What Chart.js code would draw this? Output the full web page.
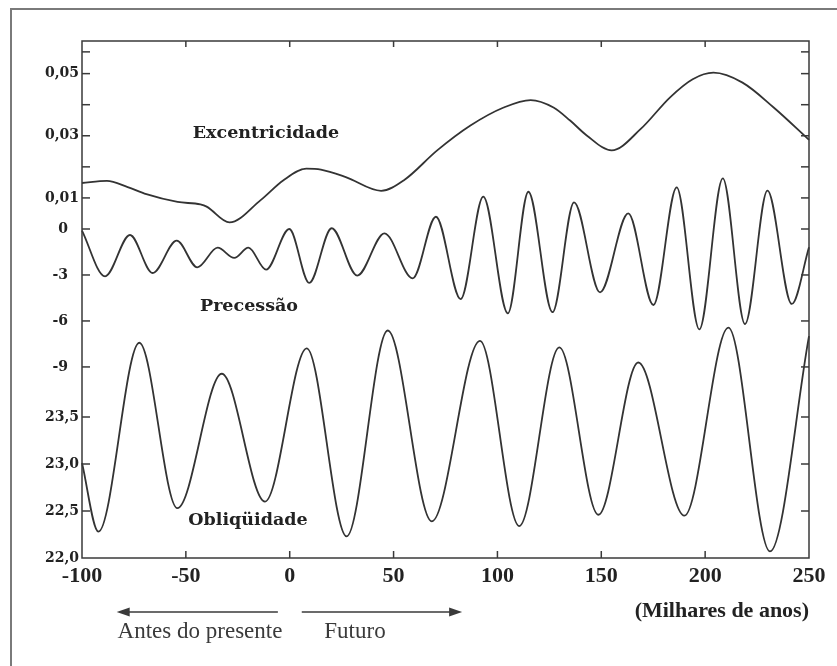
<!DOCTYPE html>
<html lang="pt">
<head>
<meta charset="utf-8">
<title>Excentricidade, Precessão e Obliqüidade</title>
<script src="https://cdn.jsdelivr.net/npm/chart.js@4.4.1/dist/chart.umd.min.js"></script>
<style>
  html, body { margin: 0; padding: 0; background: #fff; overflow: hidden; }
  #wrap { position: relative; width: 837px; height: 666px; overflow: hidden; }
  #frame { position: absolute; left: 10px; top: 8px; width: 900px; height: 720px;
           border-left: 2px solid #7a7a7a; border-top: 2px solid #7a7a7a; }
  #chart { position: absolute; left: 0; top: 0; }
  .lbl { position: absolute; transform: translate(-50%, -50%); white-space: nowrap; color: #222; }
  .curve { font-family: 'DejaVu Serif', serif; font-weight: bold; font-size: 17.5px; }
  .time { font-family: 'Liberation Serif', serif; font-size: 23px; color: #3a3a3a; }
</style>
</head>
<body>
<div id="wrap">
  <div id="frame"></div>
  <canvas id="chart" width="837" height="666"></canvas>
  <div class="lbl curve" style="left:266px; top:132px;">Excentricidade</div>
  <div class="lbl curve" style="left:249px; top:305px;">Precessão</div>
  <div class="lbl curve" style="left:248px; top:519px;">Obliqüidade</div>
  <div class="lbl time" style="left:200px; top:631px;">Antes do presente</div>
  <div class="lbl time" style="left:355px; top:631px;">Futuro</div>
</div>
<script>
// milhares de anos (negativo = passado)
const xTicks = [-100, -50, 0, 50, 100, 150, 200, 250];

const eccYears  = [-100, -88, -78, -69, -54, -43, -40, -29, -14, -3, 8, 15, 27, 44, 55, 71, 87, 103, 116, 127, 135, 143, 155, 169, 183, 194, 204, 218, 233, 250];
const eccValues = [0.0148, 0.0155, 0.0135, 0.0112, 0.0087, 0.0079, 0.0072, 0.0021, 0.0093, 0.0157, 0.0194, 0.0191, 0.0167, 0.0123, 0.0157, 0.0253, 0.0333, 0.0391, 0.0415, 0.0391, 0.0349, 0.0301, 0.0253, 0.0322, 0.0423, 0.0482, 0.0503, 0.0471, 0.0391, 0.0287];

const precYears  = [-100, -88.9, -76.9, -66, -54.4, -44.5, -34.7, -26.7, -19.9, -11.4, -0.2, 9.4, 20.2, 32.5, 45.6, 59.2, 70.4, 82.3, 93.2, 105, 114.9, 126.5, 136.9, 149.4, 163, 175.1, 186.3, 197.2, 208.5, 219.2, 230, 241.7, 250];
const precValues = [-0.1, -3.09, -0.39, -2.87, -0.76, -2.5, -1.22, -1.89, -1.22, -2.65, 0, -3.52, 0.05, -3.04, -0.28, -3.22, 0.8, -4.57, 2.11, -5.5, 2.43, -5.43, 1.74, -4.13, 1.02, -4.96, 2.72, -6.55, 3.3, -6.2, 2.5, -4.89, -1.19];

const oblYears  = [-100, -92.1, -72.4, -54.1, -32.7, -11.9, 8.2, 27.4, 47.2, 68.4, 91.6, 110.5, 129.8, 148.6, 167.8, 190, 211.2, 231.2, 250];
const oblValues = [23.01, 22.28, 24.29, 22.53, 23.96, 22.6, 24.23, 22.23, 24.42, 22.39, 24.31, 22.34, 24.24, 22.46, 24.08, 22.45, 24.45, 22.07, 24.36];

const eccTicks  = [0.01, 0.02, 0.03, 0.04, 0.05, 0.057];
const eccLabels = ['0,01', '', '0,03', '', '0,05', ''];
const precTicks  = [0, -3, -6, -9];
const precLabels = ['0', '-3', '-6', '-9'];
const oblTicks  = [22.0, 22.5, 23.0, 23.5];
const oblLabels = ['22,0', '22,5', '23,0', '23,5'];

const INK = '#333';

function series(xs, ys) {
    return xs.map((x, i) => ({ x: x, y: ys[i] }));
}

function line(id, xs, ys) {
    return {
        data: series(xs, ys),
        yAxisID: id,
        borderColor: INK,
        borderWidth: 1.8,
        pointRadius: 0,
        cubicInterpolationMode: 'monotone',
        clip: false
    };
}

function yAxis(ticks, labels, weight, min, max, pad) {
    return {
        type: 'linear',
        position: 'left',
        stack: 'ciclos',
        stackWeight: weight,
        min: min,
        max: max,
        clip: false,
        afterBuildTicks: s => { s.ticks = ticks.map(v => ({ value: v })); },
        afterFit: s => { s.width = 82; },
        grid: { display: false, drawTicks: false },
        border: { display: false },
        ticks: {
            autoSkip: false,
            padding: pad,
            color: '#222',
            font: { family: "'DejaVu Serif', serif", weight: 'bold', size: 14 },
            callback: (v, i) => labels[i]
        }
    };
}

// moldura com marcas internas e setas do tempo
const framePlugin = {
    id: 'frame',
    afterDraw(chart) {
        const { ctx, chartArea: a, scales } = chart;
        ctx.save();
        ctx.strokeStyle = '#3a3a3a';
        ctx.fillStyle = '#3a3a3a';
        ctx.lineWidth = 1.5;
        ctx.strokeRect(a.left, a.top, a.right - a.left, a.bottom - a.top);

        const seg = (x1, y1, x2, y2) => { ctx.beginPath(); ctx.moveTo(x1, y1); ctx.lineTo(x2, y2); ctx.stroke(); };

        ['yE', 'yP', 'yO'].forEach(id => {
            scales[id].ticks.forEach(t => {
                const y = scales[id].getPixelForValue(t.value);
                if (y > a.bottom - 1) return;
                seg(a.left, y, a.left + 8, y);
                seg(a.right - 8, y, a.right, y);
            });
        });
        scales.x.ticks.forEach(t => {
            const x = scales.x.getPixelForValue(t.value);
            if (x < a.left + 1 || x > a.right - 1) return;
            seg(x, a.top, x, a.top + 6);
            seg(x, a.bottom, x, a.bottom - 7);
        });

        // setas: passado / futuro
        const ay = a.bottom + 54;
        const arrow = (from, to) => {
            const x1 = scales.x.getPixelForValue(from), x2 = scales.x.getPixelForValue(to);
            const dir = Math.sign(x2 - x1);
            seg(x1, ay, x2 - dir * 10, ay);
            ctx.beginPath();
            ctx.moveTo(x2, ay);
            ctx.lineTo(x2 - dir * 13, ay - 4.5);
            ctx.lineTo(x2 - dir * 13, ay + 4.5);
            ctx.closePath();
            ctx.fill();
        };
        arrow(-5.7, -83.3);
        arrow(5.8, 83);
        ctx.restore();
    }
};

new Chart(document.getElementById('chart'), {
    type: 'line',
    data: {
        datasets: [
            line('yE', eccYears, eccValues),
            line('yP', precYears, precValues),
            line('yO', oblYears, oblValues)
        ]
    },
    options: {
        responsive: false,
        animation: false,
        events: [],
        layout: { padding: { left: 0, top: 41, right: 28, bottom: 41 } },
        plugins: { legend: { display: false }, tooltip: { enabled: false } },
        scales: {
            x: {
                type: 'linear',
                min: -100,
                max: 250,
                afterBuildTicks: s => { s.ticks = xTicks.map(v => ({ value: v })); },
                afterFit: s => { s.height = 67; },
                grid: { display: false, drawTicks: false },
                border: { display: false },
                ticks: {
                    autoSkip: false,
                    maxRotation: 0,
                    padding: 5,
                    color: '#222',
                    font: { family: "'Liberation Serif', serif", weight: 'bold', size: 22 },
                    callback: v => String(v)
                },
                title: {
                    display: true,
                    text: '(Milhares de anos)',
                    align: 'end',
                    color: '#222',
                    padding: { top: 0, bottom: 0 },
                    font: { family: "'Liberation Serif', serif", weight: 'bold', size: 22 }
                }
            },
            yO: yAxis(oblTicks, oblLabels, 188, 22, 24, 3),
            yP: yAxis(precTicks, precLabels, 141, -9.2, 0, 14),
            yE: yAxis(eccTicks, eccLabels, 188, 0, 0.0605, 3)
        }
    },
    plugins: [framePlugin]
});
</script>
</body>
</html>
